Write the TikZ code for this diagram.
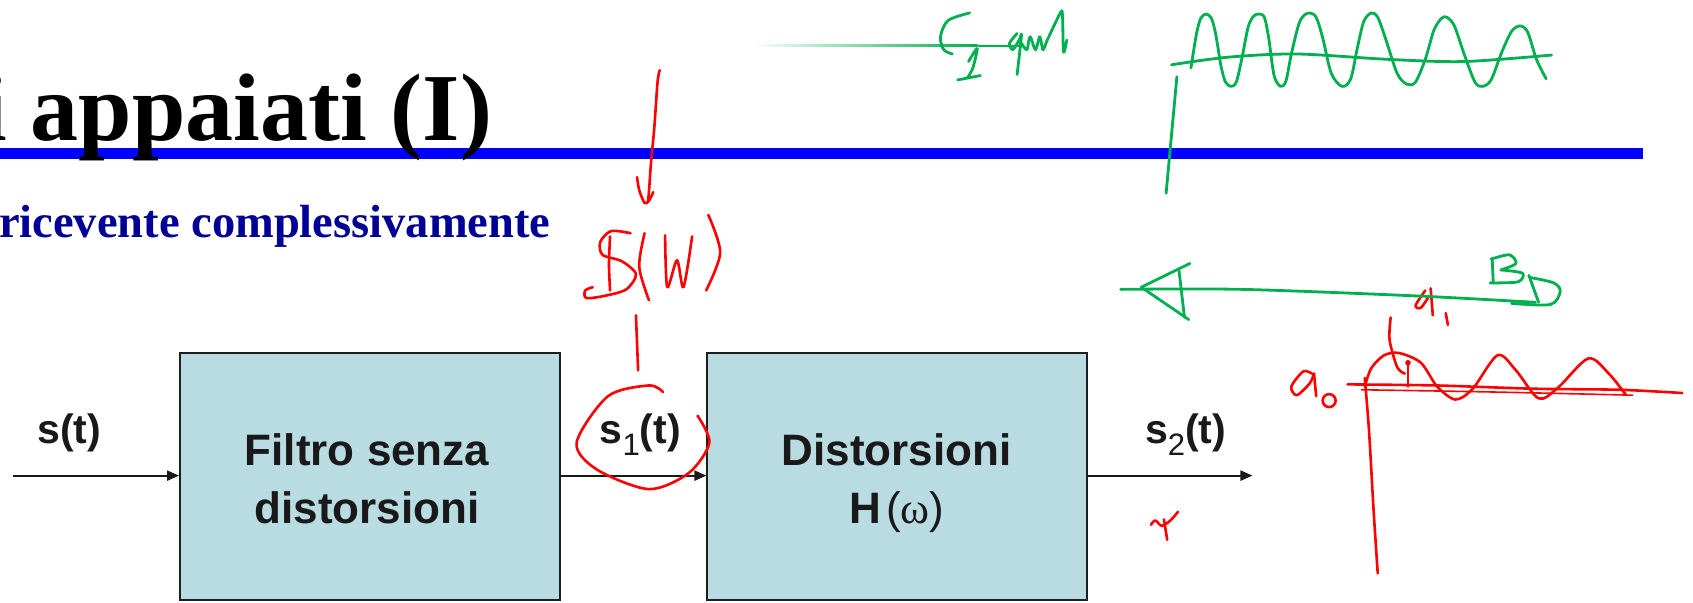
\documentclass[tikz,border=0pt]{standalone}
\usepackage{fontspec}
\setmainfont{Liberation Serif}
\setsansfont{Liberation Sans}
\usetikzlibrary{arrows.meta}
\definecolor{bandblue}{RGB}{0,0,255}
\definecolor{subnavy}{RGB}{0,0,150}
\definecolor{boxfill}{RGB}{184,220,226}
\definecolor{boxline}{RGB}{30,30,30}
\definecolor{inkred}{RGB}{255,0,0}
\definecolor{inkgreen}{RGB}{0,176,80}
\definecolor{txtdark}{RGB}{25,25,25}
\newcommand{\sigsub}[1]{\raisebox{-0.3em}{\mdseries\fontsize{31}{31}\selectfont #1}}

\begin{document}
\begin{tikzpicture}[x=1.0797pt,y=-1.0797pt,
  blk/.style={draw=boxline, line width=2pt, fill=boxfill, minimum width=380pt, minimum height=247pt, inner sep=0pt},
  boxtext/.style={font=\sffamily\bfseries\fontsize{44}{58}\selectfont, text=txtdark, anchor=base, inner sep=0pt},
  siglabel/.style={font=\sffamily\bfseries\fontsize{41}{41}\selectfont, text=txtdark, anchor=base, inner sep=0pt},
  flow/.style={draw=txtdark, line width=2.2pt, -{Triangle[length=12pt,width=10pt]}},
  redpen/.style={draw=inkred, line width=2.6pt, line cap=round, line join=round},
  greenpen/.style={draw=inkgreen, line width=2.8pt, line cap=round, line join=round},
]
\useasboundingbox (0,0) rectangle (1568,558);
\clip (0,0) rectangle (1568,558);
\fill[white] (0,0) rectangle (1568,558);

% title band
\fill[bandblue] (0,137) rectangle (1522,147);
\node[anchor=base east, inner sep=0pt, font=\rmfamily\bfseries\fontsize{96}{100}\selectfont] (title) at (456,129.7) {i appaiati (I)};
\node[anchor=base east, inner sep=0pt, text=subnavy, font=\rmfamily\bfseries\fontsize{46.5}{50}\selectfont] (subtitle) at (510,219.5) {ricevente complessivamente};

% block diagram
\node[blk] (f1) at (342.7,441.3) {};
\node[blk] (f2) at (831.2,441.3) {};
\node[boxtext] (f1a) at (340,430.7) {Filtro senza};
\node[boxtext] (f1b) at (340,484.4) {distorsioni};
\node[boxtext] (f2a) at (830.5,430.7) {Distorsioni};
\node[boxtext] (f2b) at (830.5,484.4) {H\kern0.12em{\mdseries (\rmfamily ω\sffamily)}};
\coordinate (src) at (11.7,440.5);
\coordinate (snk) at (1160,440.5);
\draw[flow] (src) -- (src -| f1.west);
\draw[flow] (f1.east |- src) -- (f2.west |- src);
\draw[flow] (f2.east |- src) -- (snk);
\node[siglabel] (l0) at (64,410.3) {s(t)};
\node[siglabel] (l1) at (593,410.3) {s\sigsub{1}(t)};
\node[siglabel] (l2) at (1098,410.3) {s\sigsub{2}(t)};

% red ink: arrow and S(w)
\draw[redpen] plot[smooth] coordinates {(611,65) (609,76) (606,118) (603,150) (601,178) (600,187)};
\draw[redpen] plot[smooth] coordinates {(590,164) (592,176) (597,188) (601,186) (605,178)};
\draw[redpen] plot[smooth] coordinates {(584,216) (566,214) (556,224) (558,236) (576,242) (589,254) (580,268) (560,274) (543,276) (542,269) (549,266)};
\draw[redpen] plot[smooth] coordinates {(565,219) (564,245) (565,269)};
\draw[redpen] plot[smooth] coordinates {(597,216) (592,247) (601,278)};
\draw[redpen] plot[smooth] coordinates {(616,218) (618,266) (627,241) (633,266) (641,219)};
\draw[redpen] plot[smooth] coordinates {(656,199) (667,234) (654,269)};
\draw[redpen] (589,292) -- (591,343);
\draw[redpen] plot[smooth] coordinates {(614,363) (601,357) (563,367) (534,410) (553,435) (601,453) (638,438) (657,410) (646,385)};

% red ink: mark below output
\draw[redpen] plot[smooth] coordinates {(1066,486) (1070,482) (1076,487) (1084,482) (1091,474)};
\draw[redpen] (1078,481) -- (1081,500);

% red ink: spectrum sketch
\draw[redpen] plot[smooth] coordinates {(1248,356) (1330,357) (1420,360) (1500,361) (1558,364)};
\draw[redpen, line width=1.6pt] plot[smooth] coordinates {(1261,361) (1380,363) (1512,366)};
\draw[redpen] plot[smooth] coordinates {(1264,350) (1268,400) (1272,470) (1276,531)};
\draw[redpen] plot[smooth] coordinates {(1264,358) (1270,341) (1282,329) (1296,327) (1316,336) (1331,358) (1348,370) (1364,360) (1387,329) (1404,343) (1425,369) (1443,359) (1471,332) (1490,346) (1506,366)};
\draw[redpen] plot[smooth] coordinates {(1215,346) (1207,344) (1196,358) (1201,366) (1213,355) (1217,346)};
\draw[redpen] (1217,346) -- (1219,367);
\draw[redpen] (1231,371) ellipse (6 and 6);
\draw[redpen] plot[smooth] coordinates {(1320,269) (1311,283) (1316,285) (1323,275)};
\draw[redpen] (1325,267) -- (1327,292);
\draw[redpen] (1339,290) -- (1341,301);
\draw[redpen] plot[smooth] coordinates {(1288,294) (1287,315) (1294,340) (1301,346)};
\draw[redpen] (1304,335) -- (1304,358);
\fill[inkred] (1304,336) circle (2.6);

% green ink: top scribble
\shade[left color=white, right color=inkgreen] (695,41.3) rectangle (905,43.3);
\draw[greenpen, line width=2pt] (900,42.3) -- (945,42.8);
\draw[greenpen] plot[smooth] coordinates {(898,12) (878,19) (871,34) (874,46) (882,50)};
\draw[greenpen] plot[smooth] coordinates {(897,57) (905,45) (901,63) (896,72)};
\draw[greenpen] (887,74) -- (908,70);
\draw[greenpen] plot[smooth] coordinates {(942,31) (935,40) (938,46) (944,37) (946,33) (942,69)};
\draw[greenpen] plot[smooth] coordinates {(946,40) (951,46) (954,34) (959,46) (963,34) (966,46) (970,37) (982,12) (984,14) (985,48) (988,37)};

% green ink: oscillation sketch
\draw[greenpen] plot[smooth] coordinates {(1090,71) (1085,125) (1080,179)};
\draw[greenpen] plot[smooth] coordinates {(1085,60) (1137,53) (1201,50) (1286,55) (1356,57) (1437,51)};
\draw[greenpen] plot[smooth] coordinates {(1103,63) (1108,32) (1112,17) (1117,13) (1122,17) (1126,32) (1131,62) (1135,76) (1140,80) (1145,76) (1150,55) (1156,25) (1161,15) (1166,13) (1171,16) (1175,35) (1180,70) (1186,80) (1191,75) (1196,50) (1203,22) (1208,14) (1213,12) (1219,16) (1225,35) (1233,68) (1243,80) (1251,73) (1257,45) (1263,20) (1270,12) (1276,16) (1283,35) (1294,68) (1303,78) (1311,76) (1320,55) (1328,28) (1335,17) (1340,16) (1347,24) (1356,50) (1366,76) (1373,80) (1381,74) (1391,48) (1400,29) (1408,24) (1415,30) (1423,55) (1432,73)};

% green ink: band arrow with B
\draw[greenpen] plot[smooth] coordinates {(1038,268) (1150,268) (1310,274) (1422,280)};
\draw[greenpen] (1102,244) -- (1057,266) -- (1101,296);
\draw[greenpen] (1092,251) -- (1097,294);
\draw[greenpen] (1382,239) -- (1383,262);
\draw[greenpen] plot[smooth] coordinates {(1381,240) (1398,236) (1404,244) (1390,250)};
\draw[greenpen] plot[smooth] coordinates {(1390,250) (1410,253) (1406,261) (1380,262)};
\draw[greenpen] (1416,255) -- (1425,280);
\draw[greenpen] plot[smooth] coordinates {(1417,257) (1439,262) (1445,270) (1436,282) (1400,281)};
\end{tikzpicture}
\end{document}
